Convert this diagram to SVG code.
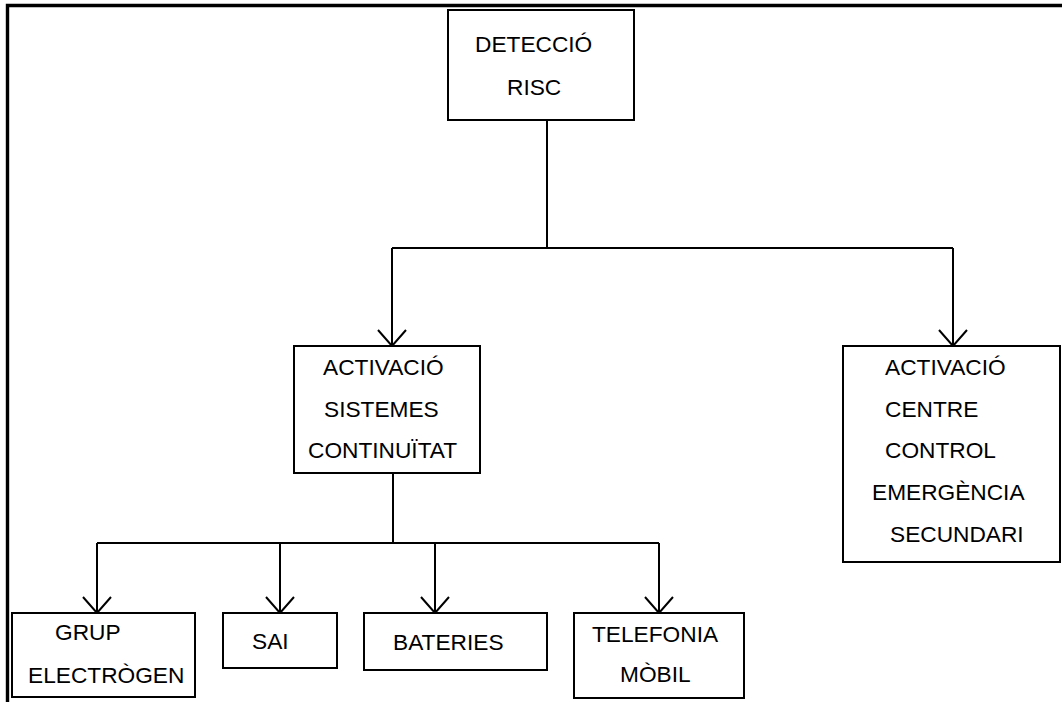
<svg xmlns="http://www.w3.org/2000/svg" width="1062" height="702" viewBox="0 0 1062 702">
<style>
.box{fill:#fff;stroke:#000;stroke-width:2}
.t{font-family:"Liberation Sans",Arial,sans-serif;font-size:22.7px;fill:#000}
.ln{fill:none;stroke:#000;stroke-width:2}
.frame{fill:none;stroke:#000;stroke-width:3.4}
</style>
<defs>
<marker id="arr" viewBox="0 0 18 30" refX="17" refY="15" markerWidth="18" markerHeight="30" markerUnits="userSpaceOnUse" orient="auto">
<path d="M1,1 L17,15 L1,29" fill="none" stroke="#000" stroke-width="2"/>
</marker>
</defs>
<rect width="1062" height="702" fill="#fff"/>
<path class="frame" d="M7.5,702 V5.5 H1062"/>
<g id="connectors">
<path class="ln" d="M547,120 V248"/>
<path class="ln" d="M392,248 H953"/>
<path class="ln" d="M392,248 V346" marker-end="url(#arr)"/>
<path class="ln" d="M953,248 V346" marker-end="url(#arr)"/>
<path class="ln" d="M393,473 V543"/>
<path class="ln" d="M97,543 H659"/>
<path class="ln" d="M97,543 V613" marker-end="url(#arr)"/>
<path class="ln" d="M280,543 V613" marker-end="url(#arr)"/>
<path class="ln" d="M435,543 V613" marker-end="url(#arr)"/>
<path class="ln" d="M659,543 V613" marker-end="url(#arr)"/>
</g>
<g id="n-deteccio">
<rect class="box" x="448" y="10" width="186" height="110"/>
<text class="t" x="475" y="52">DETECCIÓ</text>
<text class="t" x="507" y="95">RISC</text>
</g>
<g id="n-sistemes">
<rect class="box" x="294" y="346" width="186" height="127"/>
<text class="t" x="323" y="375">ACTIVACIÓ</text>
<text class="t" x="324" y="417">SISTEMES</text>
<text class="t" x="308" y="458">CONTINUÏTAT</text>
</g>
<g id="n-centre">
<rect class="box" x="843" y="346" width="217" height="216"/>
<text class="t" x="885" y="375">ACTIVACIÓ</text>
<text class="t" x="885" y="417">CENTRE</text>
<text class="t" x="885" y="458">CONTROL</text>
<text class="t" x="872" y="500">EMERGÈNCIA</text>
<text class="t" x="890" y="542">SECUNDARI</text>
</g>
<g id="n-grup">
<rect class="box" x="12" y="613" width="183" height="84"/>
<text class="t" x="55" y="640">GRUP</text>
<text class="t" x="28" y="683">ELECTRÒGEN</text>
</g>
<g id="n-sai">
<rect class="box" x="223" y="613" width="114" height="55"/>
<text class="t" x="252" y="649">SAI</text>
</g>
<g id="n-bateries">
<rect class="box" x="364" y="613" width="183" height="57"/>
<text class="t" x="393" y="650">BATERIES</text>
</g>
<g id="n-telefonia">
<rect class="box" x="574" y="613" width="170" height="85"/>
<text class="t" x="592" y="642">TELEFONIA</text>
<text class="t" x="620" y="682">MÒBIL</text>
</g>
</svg>
